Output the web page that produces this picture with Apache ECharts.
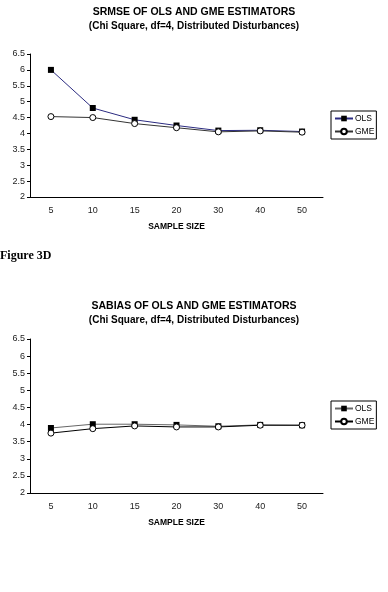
<!DOCTYPE html>
<html>
<head>
<meta charset="utf-8">
<script src="https://cdn.jsdelivr.net/npm/echarts@6/dist/echarts.min.js"></script>
<style>
	body { margin: 0; background: #fff; }
	#chart1 { position: absolute; left: 0; top: 0; width: 388px; height: 245px; }
	#chart2 { position: absolute; left: 0; top: 245px; width: 388px; height: 347px; }
</style>
</head>
<body>
<div id="chart1"></div>
<div id="chart2"></div>
<script>
// sample sizes on the x axis
const sampleSizes = ['5', '10', '15', '20', '30', '40', '50'];
// SRMSE values
const srmseOls = [6.0, 4.8, 4.43, 4.25, 4.09, 4.1, 4.06];
const srmseGme = [4.53, 4.5, 4.31, 4.18, 4.05, 4.08, 4.04];
// SABIAS values
const sabiasOls = [3.9, 4.01, 4.01, 3.99, 3.95, 3.99, 3.98];
const sabiasGme = [3.75, 3.88, 3.96, 3.93, 3.93, 3.98, 3.98];

const font = 'Liberation Sans, Arial, sans-serif';

const makeOption = (titleTop, gridTop, gridHeight, legendTop, olsData, gmeData, title, olsColor, gmeColor) => {
	return {
		animation: false,
		title: [{
			text: title,
			left: 'center',
			top: titleTop,
			textStyle: { fontFamily: font, fontSize: 10.5, fontWeight: 'bold', color: '#000' }
		}, {
			text: '(Chi Square, df=4, Distributed Disturbances)',
			left: 'center',
			top: titleTop + 14,
			textStyle: { fontFamily: font, fontSize: 10, fontWeight: 'bold', color: '#000' }
		}],
		legend: {
			orient: 'vertical',
			left: 331,
			top: legendTop,
			padding: [3, 2, 3, 3],
			itemGap: 4,
			itemWidth: 18,
			itemHeight: 7,
			borderColor: '#000',
			borderWidth: 1,
			textStyle: { fontFamily: font, fontSize: 8.5, color: '#000', padding: [0, 0, 0, -3] },
			data: ['OLS', 'GME']
		},
		grid: {
			left: 30,
			right: 65,
			top: gridTop,
			height: gridHeight
		},
		xAxis: {
			type: 'category',
			data: sampleSizes,
			name: 'SAMPLE SIZE',
			nameLocation: 'middle',
			nameGap: 25,
			nameTextStyle: { fontFamily: font, fontSize: 8.5, fontWeight: 'bold', color: '#000' },
			axisLine: { lineStyle: { color: '#000', width: 1 } },
			axisTick: { length: 4, lineStyle: { color: '#000' } },
			axisLabel: { fontFamily: font, fontSize: 9, color: '#222', margin: 9 }
		},
		yAxis: {
			type: 'value',
			min: 2,
			max: 6.5,
			interval: 0.5,
			splitLine: { show: false },
			axisLine: { show: true, lineStyle: { color: '#000', width: 1 } },
			axisTick: { show: true, length: 3, lineStyle: { color: '#000' } },
			axisLabel: { fontFamily: font, fontSize: 9, color: '#222', margin: 5 }
		},
		series: [{
			name: 'OLS',
			type: 'line',
			data: olsData,
			symbol: 'rect',
			symbolSize: 6,
			itemStyle: { color: '#000' },
			lineStyle: { color: olsColor, width: 1 }
		}, {
			name: 'GME',
			type: 'line',
			data: gmeData,
			symbol: 'circle',
			symbolSize: 6,
			itemStyle: { color: '#fff', borderColor: '#000', borderWidth: 1 },
			lineStyle: { color: gmeColor, width: 1 }
		}]
	};
};

let chart1 = echarts.init(document.getElementById('chart1'));
let chart2 = echarts.init(document.getElementById('chart2'));

let option1 = makeOption(2, 54, 143, 111, srmseOls, srmseGme,
	'SRMSE OF OLS AND GME ESTIMATORS', '#2b2b80', '#333');
let option2 = makeOption(51, 94, 154, 156, sabiasOls, sabiasGme,
	'SABIAS OF OLS AND GME ESTIMATORS', '#666', '#000');
// caption between the two charts
option2.graphic = [{
	type: 'text',
	left: 0,
	top: 5,
	style: { text: 'Figure 3D', font: 'bold 12px "Liberation Serif", "Times New Roman", serif', fill: '#000' }
}];

chart1.setOption(option1);
chart2.setOption(option2);
</script>
</body>
</html>
